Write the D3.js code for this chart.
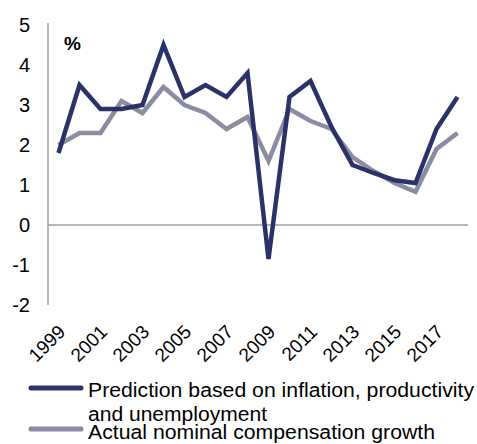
<!DOCTYPE html>
<html>
<head>
<meta charset="utf-8">
<script src="https://cdn.jsdelivr.net/npm/d3@7"></script>
<style>
  body { margin: 0; background: #fff; }
  svg { font-family: "Liberation Sans", Arial, sans-serif; }
</style>
</head>
<body>
<svg width="477" height="444"></svg>
<script>
// years on the x axis
const years = d3.range(1999, 2019).map(String)
// dark line: prediction based on inflation, productivity and unemployment
const prediction = [1.8, 3.5, 2.9, 2.9, 3.0, 4.5, 3.2, 3.5, 3.2, 3.8, -0.85, 3.2, 3.6, 2.45, 1.5, 1.3, 1.12, 1.05, 2.4, 3.2]
// grey line: actual nominal compensation growth
const actual = [2.0, 2.3, 2.3, 3.1, 2.8, 3.45, 3.0, 2.8, 2.4, 2.7, 1.6, 2.9, 2.6, 2.4, 1.7, 1.35, 1.05, 0.83, 1.9, 2.3]
const yTicks = [-2, -1, 0, 1, 2, 3, 4, 5]
const seriesNames = ['Prediction based on inflation, productivity', 'Actual nominal compensation growth']

const svg = d3.select('svg')
const plotLeft = 48, plotRight = 468, plotTop = 25, plotBottom = 305

const x = d3.scaleBand().domain(years).range([plotLeft, plotRight])
const y = d3.scaleLinear().domain([-2, 5]).range([plotBottom, plotTop])

const colors = ['#2b3169', '#8a8ca2']

// y axis line and tick labels
svg.append('line')
  .attr('x1', plotLeft).attr('x2', plotLeft)
  .attr('y1', plotTop - 2).attr('y2', plotBottom)
  .attr('stroke', '#a0a0a0').attr('stroke-width', 1.5)

svg.append('g')
  .attr('transform', `translate(${plotLeft - 18},0)`)
  .call(d3.axisLeft(y).tickValues(yTicks).tickFormat(d => String(d)).tickSize(0).tickPadding(0))
  .call(g => g.select('.domain').remove())
  .selectAll('text')
    .attr('font-size', 20)
    .attr('font-family', '"Liberation Sans", Arial, sans-serif')
    .attr('fill', '#000')

// zero line
svg.append('line')
  .attr('x1', plotLeft).attr('x2', plotRight)
  .attr('y1', y(0)).attr('y2', y(0))
  .attr('stroke', '#a0a0a0').attr('stroke-width', 1.5)

// x labels, every second year, rotated
svg.append('g')
  .selectAll('text')
  .data(years.filter((d, i) => i % 2 === 0))
  .enter().append('text')
    .attr('transform', d => `translate(${x(d) + x.bandwidth() / 2 + 8},${plotBottom + 28}) rotate(-45)`)
    .attr('text-anchor', 'end')
    .attr('font-size', 19)
    .attr('fill', '#000')
    .text(d => d)

// % label
svg.append('text')
  .attr('x', 64).attr('y', 50)
  .attr('font-size', 19).attr('font-weight', 'bold')
  .text('%')

const line = d3.line()
  .x((d, i) => x(years[i]) + x.bandwidth() / 2)
  .y(d => y(d))

;[actual, prediction].forEach((vals, k) => {
  svg.append('path')
    .datum(vals)
    .attr('d', line)
    .attr('fill', 'none')
    .attr('stroke', k === 0 ? colors[1] : colors[0])
    .attr('stroke-width', 4.5)
    .attr('stroke-linejoin', 'miter')
})

// legend
const legend = svg.append('g')
legend.append('line')
  .attr('x1', 31).attr('x2', 81).attr('y1', 388).attr('y2', 388)
  .attr('stroke', colors[0]).attr('stroke-width', 5).attr('stroke-linecap', 'round')
legend.append('line')
  .attr('x1', 31).attr('x2', 81).attr('y1', 429).attr('y2', 429)
  .attr('stroke', colors[1]).attr('stroke-width', 5).attr('stroke-linecap', 'round')
legend.append('text')
  .attr('x', 88).attr('y', 397).attr('font-size', 20)
  .attr('textLength', 386).attr('lengthAdjust', 'spacingAndGlyphs')
  .text(seriesNames[0])
legend.append('text')
  .attr('x', 88).attr('y', 421).attr('font-size', 20)
  .attr('textLength', 179).attr('lengthAdjust', 'spacingAndGlyphs')
  .text('and unemployment')
legend.append('text')
  .attr('x', 88).attr('y', 439).attr('font-size', 20)
  .attr('textLength', 347).attr('lengthAdjust', 'spacingAndGlyphs')
  .text(seriesNames[1])
</script>
</body>
</html>
